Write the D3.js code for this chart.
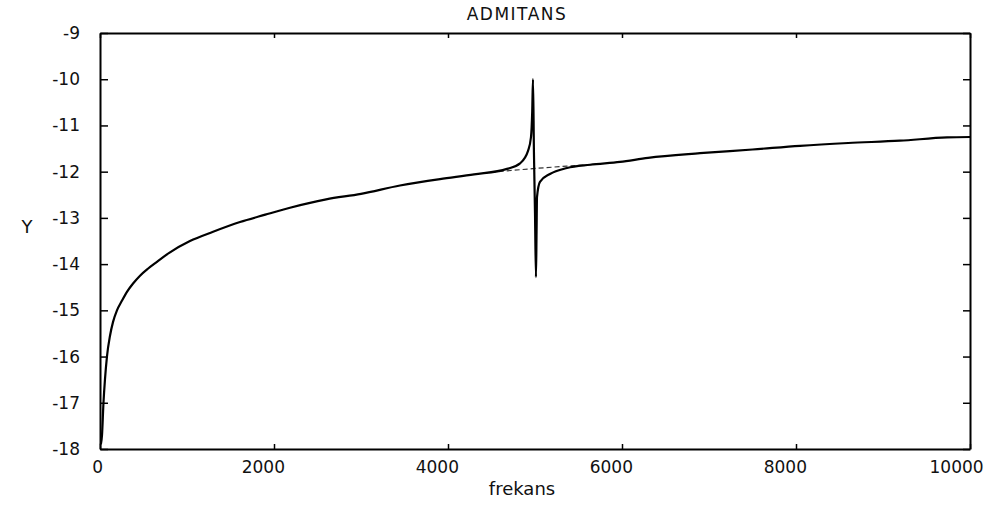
<!DOCTYPE html>
<html>
<head>
<meta charset="utf-8">
<script src="https://cdn.jsdelivr.net/npm/d3@7"></script>
<style>
  body { margin: 0; background: #fff; }
  text { font-family: "DejaVu Sans", "Liberation Sans", Arial, sans-serif; fill: #111; }
</style>
</head>
<body>
<div id="chart"></div>
<script>
// measured admittance curve (frekans -> Y)
let freq = [10, 23, 40, 57, 80, 115, 150, 195, 250, 310, 380, 460, 550, 655, 800, 1034, 1300, 1609,
    1900, 2184, 2600, 3000, 3448, 3908, 4300, 4678, 4828, 4920, 4954, 4968, 4977, 4988, 5000, 5011,
    5018, 5023, 5057, 5172, 5368, 5632, 5977, 6300, 6897, 7500, 8046, 8600, 9195, 9736, 10000]
let admit = [-17.9, -17.7, -17.0, -16.5, -16.0, -15.55, -15.25, -15.0, -14.8, -14.6, -14.42, -14.25,
    -14.1, -13.95, -13.75, -13.5, -13.3, -13.09, -12.93, -12.78, -12.6, -12.48, -12.3, -12.16, -12.06,
    -11.94, -11.82, -11.55, -11.25, -10.7, -10.0, -11.6, -12.9, -14.28, -13.3, -12.55, -12.22, -12.05,
    -11.92, -11.85, -11.79, -11.7, -11.6, -11.52, -11.44, -11.38, -11.33, -11.26, -11.25]

// dashed baseline (without the resonance)
let baseFreq = [4400, 4632, 5000, 5368, 5700]
let baseAdmit = [-12.03, -11.99, -11.93, -11.88, -11.84]

let xTicks = [0, 2000, 4000, 6000, 8000, 10000]
let yTicks = [-18, -17, -16, -15, -14, -13, -12, -11, -10, -9]

const width = 998
const height = 506
const padLeft = 100, padRight = 970, padTop = 33, padBottom = 449

let svg = d3.select("#chart")
    .append("svg")
    .attr("width", width)
    .attr("height", height)

let scaleX = d3.scaleLinear().domain([0, 10000]).range([padLeft, padRight])
let scaleY = d3.scaleLinear().domain([-18, -9]).range([padBottom, padTop])

// dashed line first, solid curve draws over it
let baseData = baseFreq.map((f, i) => [f, baseAdmit[i]])
svg.append("path")
    .datum(baseData)
    .attr("d", d3.line().x(d => scaleX(d[0])).y(d => scaleY(d[1])))
    .attr("fill", "none")
    .attr("stroke", "#333")
    .attr("stroke-width", 1.2)
    .attr("stroke-dasharray", "5,3")

let data = freq.map((f, i) => [f, admit[i]])
svg.append("path")
    .datum(data)
    .attr("d", d3.line().curve(d3.curveMonotoneX).x(d => scaleX(d[0])).y(d => scaleY(d[1])))
    .attr("fill", "none")
    .attr("stroke", "#000")
    .attr("stroke-width", 2.2)
    .attr("stroke-linejoin", "round")

// axes, ticks pointing inward; plain hyphen minus and no thousands comma
let plain = d => String(d)
let xAxis = d3.axisBottom(scaleX).tickValues(xTicks).tickFormat(plain)
    .tickSizeInner(-5).tickSizeOuter(0).tickPadding(12)
let yAxis = d3.axisLeft(scaleY).tickValues(yTicks).tickFormat(plain)
    .tickSizeInner(-8).tickSizeOuter(0).tickPadding(20)

let gx = svg.append("g").attr("transform", "translate(0," + padBottom + ")").call(xAxis)
svg.append("g").attr("transform", "translate(" + padLeft + ",0)").call(yAxis)
svg.append("g").attr("transform", "translate(0," + padTop + ")")
    .call(d3.axisTop(scaleX).tickValues(xTicks).tickSizeInner(-5).tickSizeOuter(0).tickFormat(""))
svg.append("g").attr("transform", "translate(" + padRight + ",0)")
    .call(d3.axisRight(scaleY).tickValues(yTicks).tickSizeInner(-7).tickSizeOuter(0).tickFormat(""))

// x labels in the reference sit a bit left of their ticks
gx.selectAll(".tick text")
    .attr("text-anchor", "start")
    .attr("x", d => -8.2 * String(d).length)

svg.selectAll(".domain").attr("stroke", "#000").attr("stroke-width", 2)
svg.selectAll(".tick line").attr("stroke", "#000").attr("stroke-width", 1.5)
svg.selectAll(".tick text")
    .style("font-family", '"DejaVu Sans", Arial, sans-serif')
    .style("font-size", "17px")
    .attr("fill", "#111")

svg.append("text")
    .text("ADMITANS")
    .attr("x", 517)
    .attr("y", 20)
    .attr("text-anchor", "middle")
    .style("font-size", "17px")
    .style("letter-spacing", "1.5px")

svg.append("text")
    .text("frekans")
    .attr("x", 522)
    .attr("y", 495)
    .attr("text-anchor", "middle")
    .style("font-size", "18px")

svg.append("text")
    .text("Y")
    .attr("x", 27)
    .attr("y", 233)
    .attr("text-anchor", "middle")
    .style("font-size", "18px")
</script>
</body>
</html>
